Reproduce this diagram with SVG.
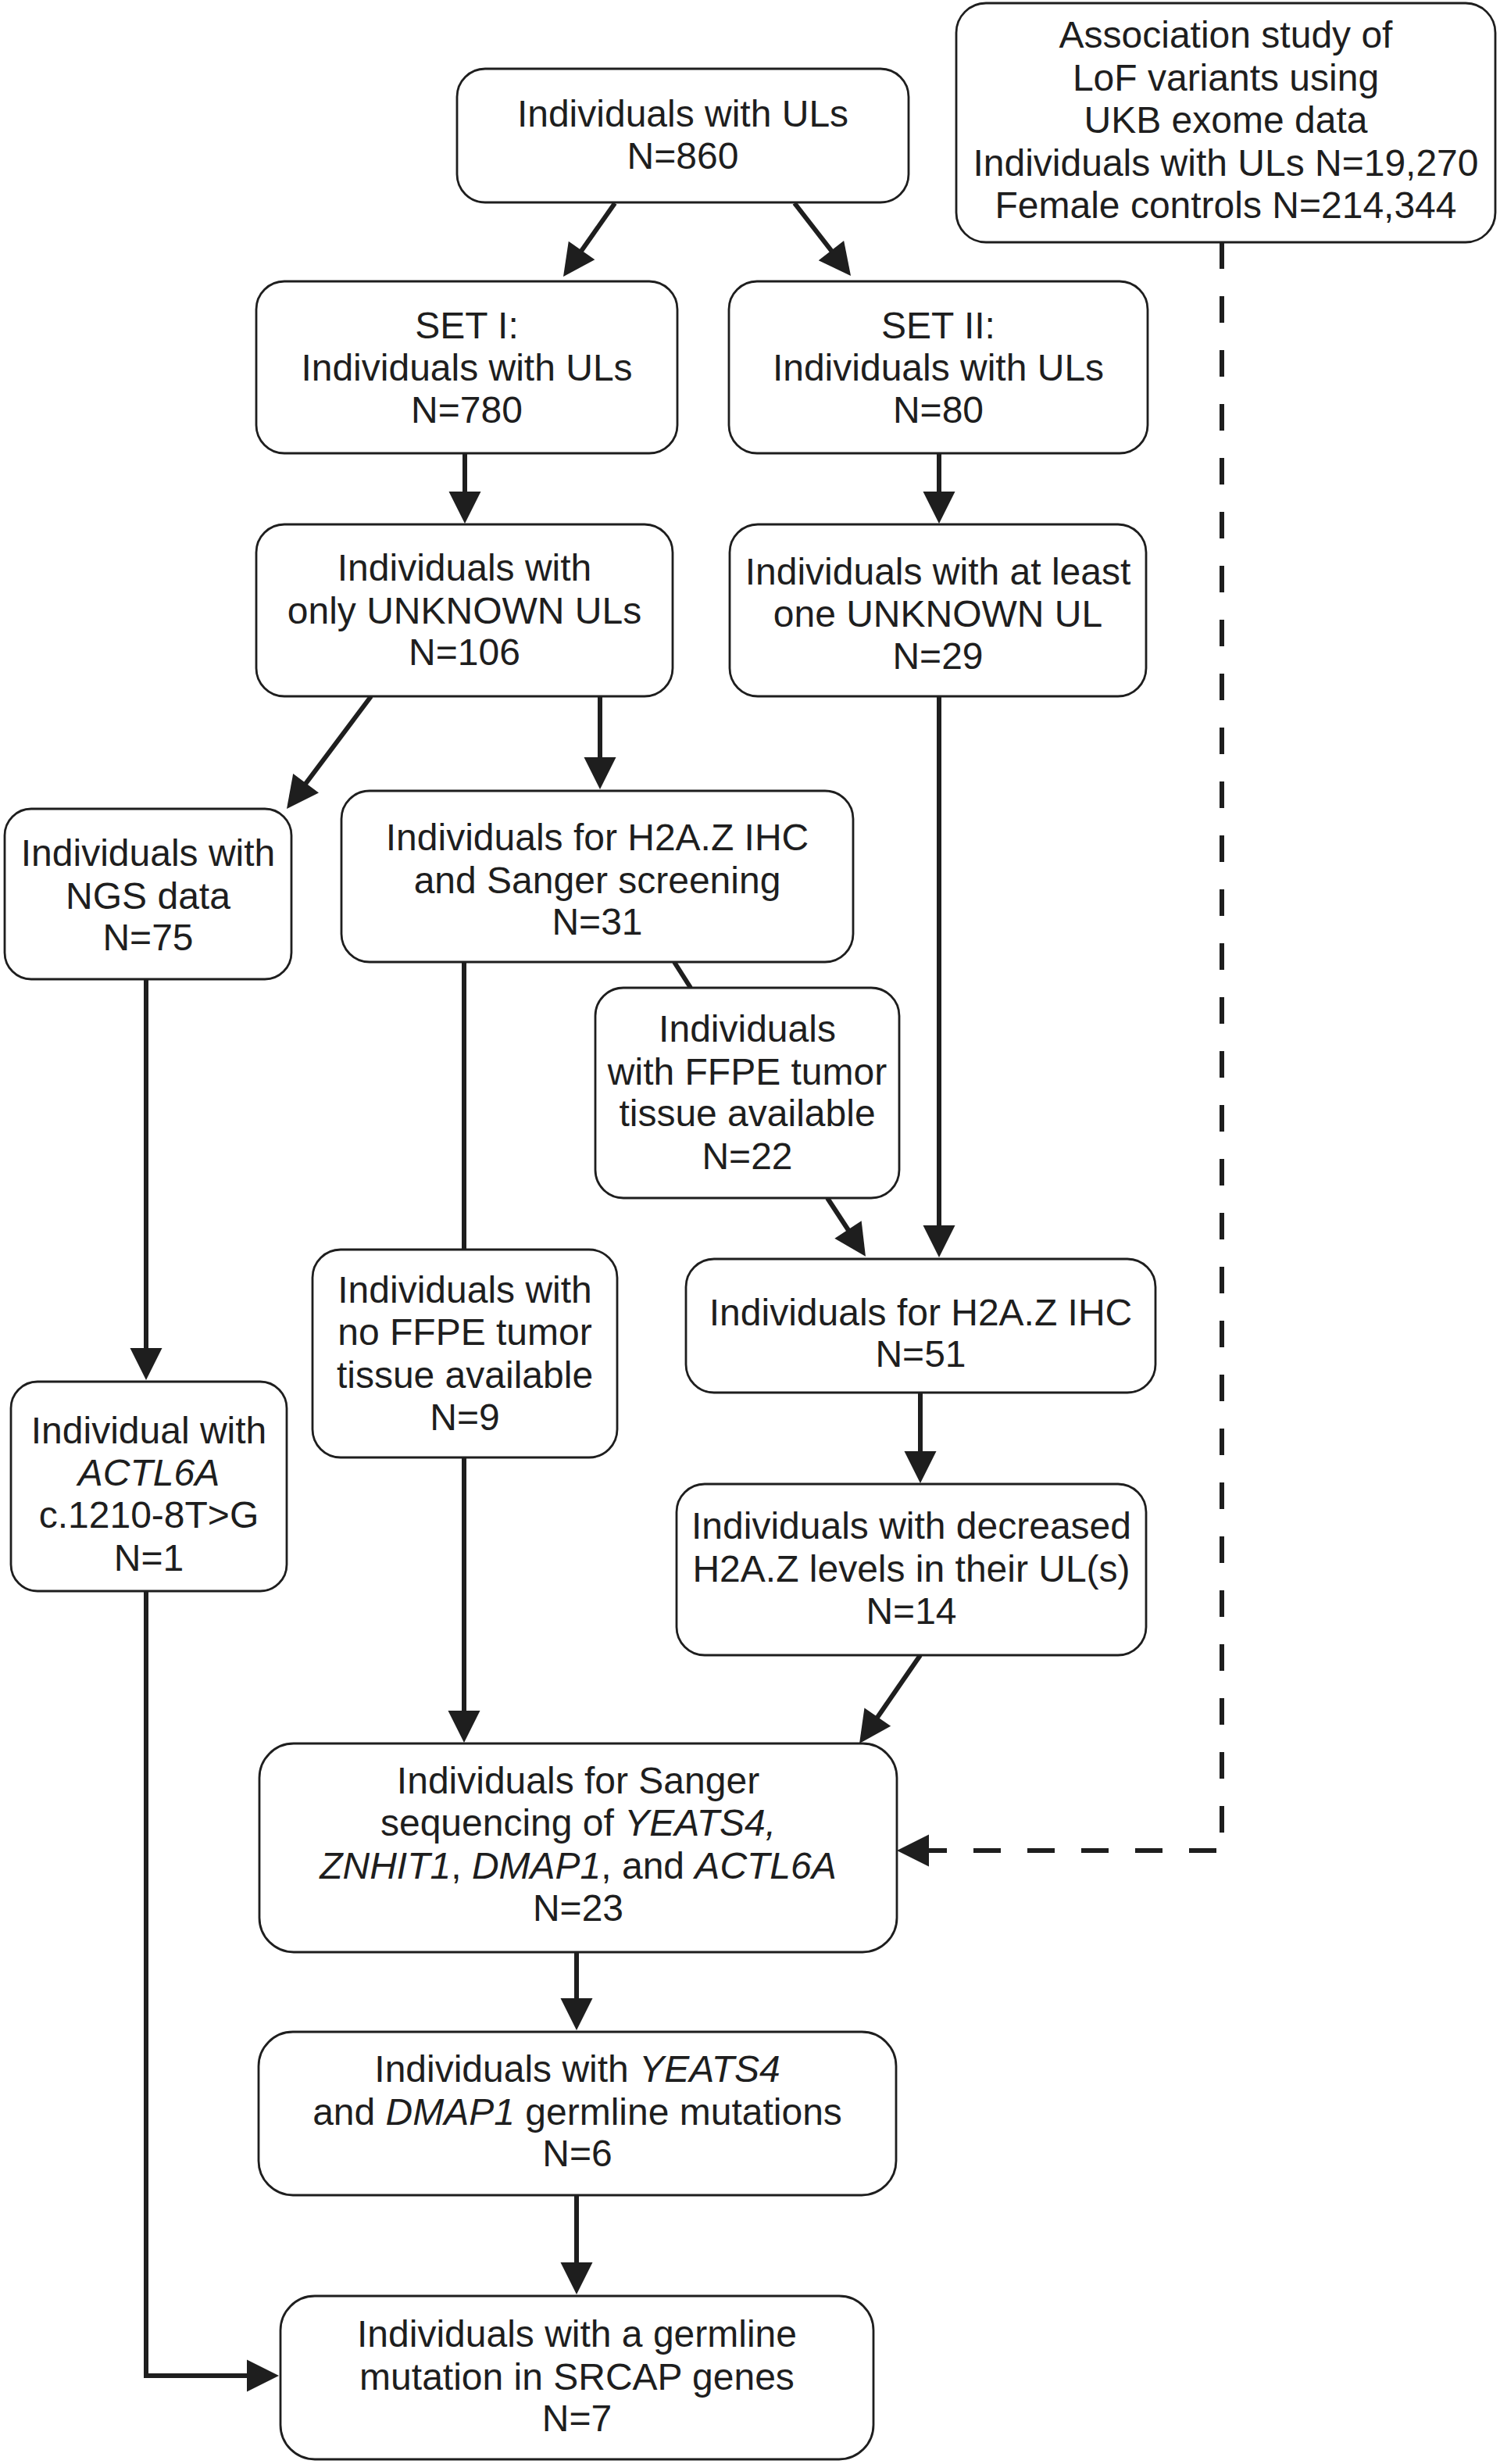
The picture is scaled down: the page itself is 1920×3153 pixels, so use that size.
<svg xmlns="http://www.w3.org/2000/svg" width="1920" height="3153" viewBox="0 0 1920 3153">
<style>
.box{fill:#fff;stroke:#1e1e1e;stroke-width:2.8}
.t{font-family:"Liberation Sans",Arial,sans-serif;font-size:48px;fill:#1e1e1e;text-anchor:middle}
.i{font-style:italic}
.c{fill:none;stroke:#1e1e1e;stroke-width:6}
.a{marker-end:url(#ah)}
.d{stroke-dasharray:34 35}
</style>
<defs>
<marker id="ah" markerUnits="userSpaceOnUse" markerWidth="42" markerHeight="42" refX="21" refY="20.5" orient="auto" overflow="visible">
<path d="M0,0 L41,20.5 L0,41 z" fill="#1e1e1e"/>
</marker>
</defs>
<rect width="1920" height="3153" fill="#fff"/>
<g id="connectors">
<path class="c a" d="M787,260 L732.5,337.6"/>
<path class="c a" d="M1017,260 L1076.8,337.2"/>
<path class="c a" d="M595,580 L595,650"/>
<path class="c a" d="M1202,580 L1202,650"/>
<path class="c a" d="M475,891 L379,1019"/>
<path class="c a" d="M768,891 L768,990"/>
<path class="c a" d="M1202,891 L1202,1589"/>
<path class="c" d="M594,1231 L594,1599"/>
<path class="c" d="M863,1231 L884,1264"/>
<path class="c a" d="M1059,1533 L1097,1591"/>
<path class="c a" d="M187,1253 L187,1746"/>
<path class="c a" d="M1178,1782 L1178,1878"/>
<path class="c a" d="M594,1865 L594,2210"/>
<path class="c a" d="M1178,2118 L1111.4,2214.5"/>
<path class="c a" d="M738,2498 L738,2578"/>
<path class="c a" d="M738,2809 L738,2916"/>
<path class="c a" d="M187,2036 L187,3040 L337,3040"/>
<path class="c d" d="M1564,310 L1564,2368"/>
<path class="c a" d="M1557,2368 L1168,2368" stroke-dasharray="35 34"/>
</g>
<g id="n-top">
<rect class="box" x="585" y="88" width="578" height="171" rx="36"/>
<text class="t" x="874" y="162">Individuals with ULs</text>
<text class="t" x="874" y="216">N=860</text>
</g>
<g id="n-assoc">
<rect class="box" x="1224" y="4" width="690" height="306" rx="38"/>
<text class="t" x="1569" y="61">Association study of</text>
<text class="t" x="1569" y="115.5">LoF variants using</text>
<text class="t" x="1569" y="170">UKB exome data</text>
<text class="t" x="1569" y="224.5">Individuals with ULs N=19,270</text>
<text class="t" x="1569" y="279">Female controls N=214,344</text>
</g>
<g id="n-set1">
<rect class="box" x="328" y="360" width="539" height="220" rx="36"/>
<text class="t" x="597.5" y="433">SET I:</text>
<text class="t" x="597.5" y="487">Individuals with ULs</text>
<text class="t" x="597.5" y="541">N=780</text>
</g>
<g id="n-set2">
<rect class="box" x="933" y="360" width="536" height="220" rx="36"/>
<text class="t" x="1201" y="433">SET II:</text>
<text class="t" x="1201" y="487">Individuals with ULs</text>
<text class="t" x="1201" y="541">N=80</text>
</g>
<g id="n-onlyunknown">
<rect class="box" x="328" y="671" width="533" height="220" rx="36"/>
<text class="t" x="594.5" y="743">Individuals with</text>
<text class="t" x="594.5" y="798">only UNKNOWN ULs</text>
<text class="t" x="594.5" y="851">N=106</text>
</g>
<g id="n-atleast">
<rect class="box" x="934" y="671" width="533" height="220" rx="36"/>
<text class="t" x="1200.5" y="748">Individuals with at least</text>
<text class="t" x="1200.5" y="802">one UNKNOWN UL</text>
<text class="t" x="1200.5" y="856">N=29</text>
</g>
<g id="n-ngs">
<rect class="box" x="6" y="1035" width="367" height="218" rx="34"/>
<text class="t" x="189.5" y="1108">Individuals with</text>
<text class="t" x="189.5" y="1163">NGS data</text>
<text class="t" x="189.5" y="1216">N=75</text>
</g>
<g id="n-ihcsanger">
<rect class="box" x="437" y="1012" width="655" height="219" rx="36"/>
<text class="t" x="764.5" y="1088">Individuals for H2A.Z IHC</text>
<text class="t" x="764.5" y="1143">and Sanger screening</text>
<text class="t" x="764.5" y="1196">N=31</text>
</g>
<g id="n-ffpe">
<rect class="box" x="762" y="1264" width="389" height="269" rx="36"/>
<text class="t" x="956.5" y="1333">Individuals</text>
<text class="t" x="956.5" y="1388">with FFPE tumor</text>
<text class="t" x="956.5" y="1441">tissue available</text>
<text class="t" x="956.5" y="1496">N=22</text>
</g>
<g id="n-ihc">
<rect class="box" x="878" y="1611" width="601" height="171" rx="36"/>
<text class="t" x="1178.5" y="1696">Individuals for H2A.Z IHC</text>
<text class="t" x="1178.5" y="1749">N=51</text>
</g>
<g id="n-noffpe">
<rect class="box" x="400" y="1599" width="390" height="266" rx="36"/>
<text class="t" x="595" y="1667">Individuals with</text>
<text class="t" x="595" y="1721">no FFPE tumor</text>
<text class="t" x="595" y="1776">tissue available</text>
<text class="t" x="595" y="1830">N=9</text>
</g>
<g id="n-actl6a">
<rect class="box" x="14" y="1768" width="353" height="268" rx="34"/>
<text class="t" x="190.5" y="1847">Individual with</text>
<text class="t i" x="190.5" y="1901">ACTL6A</text>
<text class="t" x="190.5" y="1955">c.1210-8T&gt;G</text>
<text class="t" x="190.5" y="2010">N=1</text>
</g>
<g id="n-decreased">
<rect class="box" x="866" y="1899" width="601" height="219" rx="36"/>
<text class="t" x="1166.5" y="1969">Individuals with decreased</text>
<text class="t" x="1166.5" y="2024">H2A.Z levels in their UL(s)</text>
<text class="t" x="1166.5" y="2078">N=14</text>
</g>
<g id="n-sanger">
<rect class="box" x="332" y="2231" width="816" height="267" rx="44"/>
<text class="t" x="740" y="2295">Individuals for Sanger</text>
<text class="t" x="740" y="2349">sequencing of <tspan class="i">YEATS4,</tspan></text>
<text class="t" x="740" y="2404"><tspan class="i">ZNHIT1</tspan>, <tspan class="i">DMAP1</tspan>, and <tspan class="i">ACTL6A</tspan></text>
<text class="t" x="740" y="2458">N=23</text>
</g>
<g id="n-mutations">
<rect class="box" x="331" y="2600" width="816" height="209" rx="44"/>
<text class="t" x="739" y="2664">Individuals with <tspan class="i">YEATS4</tspan></text>
<text class="t" x="739" y="2719">and <tspan class="i">DMAP1</tspan> germline mutations</text>
<text class="t" x="739" y="2772">N=6</text>
</g>
<g id="n-final">
<rect class="box" x="359" y="2938" width="759" height="209" rx="44"/>
<text class="t" x="738.5" y="3003">Individuals with a germline</text>
<text class="t" x="738.5" y="3058">mutation in SRCAP genes</text>
<text class="t" x="738.5" y="3111">N=7</text>
</g>
</svg>
